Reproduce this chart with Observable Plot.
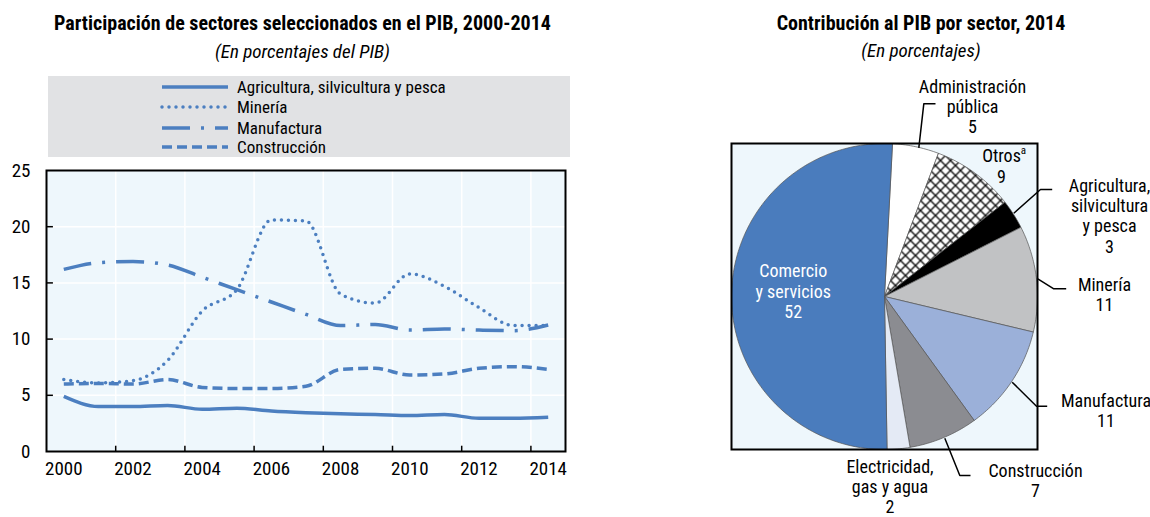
<!DOCTYPE html>
<html><head><meta charset="utf-8">
<script src="https://cdn.jsdelivr.net/npm/d3@7"></script>
<script src="https://cdn.jsdelivr.net/npm/@observablehq/plot@0.6"></script>
<style>
body{margin:0;background:#fff;}
#root{position:relative;width:1150px;height:517px;overflow:hidden;font-family:"Liberation Sans Narrow","Arial Narrow","Roboto Condensed","DejaVu Sans Condensed",sans-serif;color:#000}
.abs{position:absolute}
.title{font-weight:bold;font-size:20px;line-height:24px;text-align:center;white-space:nowrap}
.sub{font-style:italic;font-size:19px;line-height:24px;text-align:center;white-space:nowrap}
</style></head><body>
<div id="root">
  <div class="abs title" style="left:0;top:11px;width:605px">Participación de sectores seleccionados en el PIB, 2000-2014</div>
  <div class="abs sub" style="left:0;top:40px;width:605px">(En porcentajes del PIB)</div>
  <div class="abs title" style="left:721px;top:11px;width:400px">Contribución al PIB por sector, 2014</div>
  <div class="abs sub" style="left:721px;top:39px;width:400px">(En porcentajes)</div>
  <div id="legend" class="abs" style="left:48px;top:76px;width:522px;height:81px;background:#e1e2e4"></div>
  <div id="left" class="abs" style="left:0;top:160px"></div>
  <div id="right" class="abs" style="left:700px;top:70px"></div>
</div>
<script>
const FONT = '"Liberation Sans Narrow","Arial Narrow","Roboto Condensed","DejaVu Sans Condensed",sans-serif';

// ---------- Data: line chart ----------
const years = [2000,2001,2002,2003,2004,2005,2006,2007,2008,2009,2010,2011,2012,2013,2014];
const agricultura  = [4.9,4.0,4.0,4.1,3.75,3.85,3.6,3.45,3.35,3.3,3.2,3.3,2.95,2.95,3.05];
const mineria      = [6.4,6.1,6.3,8.1,12.5,14.4,20.6,20.5,14.0,13.2,15.8,14.7,12.8,11.2,11.2];
const manufactura  = [16.2,16.8,16.9,16.6,15.5,14.4,13.3,12.2,11.2,11.3,10.8,10.9,10.8,10.75,11.25];
const construccion = [6.0,6.05,6.0,6.4,5.7,5.6,5.6,5.8,7.3,7.4,6.8,6.9,7.4,7.55,7.3];
const serieNames = ["Agricultura, silvicultura y pesca","Minería","Manufactura","Construcción"];
const xTickYears = [2000,2002,2004,2006,2008,2010,2012,2014];
const yTicks = [0,5,10,15,20,25];

// ---------- Data: pie ----------
const sectores = ["Administración\npública","Otros","Agricultura,\nsilvicultura\ny pesca","Minería","Manufactura","Construcción","Electricidad,\ngas y agua","Comercio\ny servicios"];
const shares = [4.9, 8.7, 3.1, 11.2, 11.3, 7.3, 2.4, 51.1];   // slice sizes
const etiquetas = [5, 9, 3, 11, 11, 7, 2, 52];                  // printed values

// ---------- Styles ----------
const BLUE = "#4c7fc0";
const lineStyles = [
  {dash: null, cap: "butt"},
  {dash: "0,7", cap: "round"},
  {dash: "28,11,3,11", cap: "butt"},
  {dash: "10,5", cap: "butt"}
];
const sliceFill = ["#ffffff","url(#xhatch)","#000000","#c1c2c4","#9bb0d9","#8b8c91","#e4eaf5","#4a7cbd"];

const serieValues = [agricultura, mineria, manufactura, construccion];
const rows = serieNames.flatMap((s, i) => years.map((y, j) => ({serie: s, year: y, value: serieValues[i][j]})));

// ---------- Legend ----------
{
  const svg = d3.select("#legend").append("svg").attr("width", 522).attr("height", 81);
  const ys = [11, 31, 52, 71];
  serieNames.forEach((s, i) => {
    const l = svg.append("line").attr("x1", 114).attr("x2", 180).attr("y1", ys[i]).attr("y2", ys[i])
      .attr("stroke", BLUE).attr("stroke-width", 3.5).attr("stroke-linecap", lineStyles[i].cap);
    if (lineStyles[i].dash) l.attr("stroke-dasharray", lineStyles[i].dash);
    svg.append("text").attr("x", 189).attr("y", ys[i]).attr("dy", "0.35em")
      .attr("font-family", FONT).attr("font-size", 17).text(s);
  });
}

// ---------- Line chart ----------
const lineMarks = serieNames.map((s, i) => Plot.line(rows.filter(d => d.serie === s), {
  x: d => d.year + 0.5, y: "value", stroke: BLUE, strokeWidth: 3.5,
  strokeDasharray: lineStyles[i].dash ?? undefined, strokeLinecap: lineStyles[i].cap,
  curve: "monotone-x"
}));

const left = Plot.plot({
  width: 580, height: 357,
  marginTop: 10, marginBottom: 66, marginLeft: 46, marginRight: 15,
  style: {fontFamily: FONT, fontSize: "19px", color: "#000", background: "transparent", overflow: "visible"},
  x: {domain: [2000, 2015]},
  y: {domain: [0, 25]},
  marks: [
    Plot.frame({fill: "#eef7fc"}),
    Plot.gridY([5,10,15,20], {stroke: "white", strokeOpacity: 1, strokeWidth: 1.5}),
    Plot.gridX(xTickYears.slice(1), {stroke: "white", strokeOpacity: 1, strokeWidth: 1.5}),
    ...lineMarks,
    Plot.ruleY([5,10,15,20], {x1: 2000, x2: 2000.2, stroke: "black", strokeWidth: 1.5}),
    Plot.ruleX(xTickYears.slice(1), {y1: 0, y2: 0.47, stroke: "black", strokeWidth: 1.5}),
    Plot.axisY({ticks: yTicks, tickSize: 0, tickPadding: 16, label: null, fontSize: 19}),
    Plot.axisX({ticks: xTickYears, tickSize: 0, tickPadding: 10, dx: 17.3, tickFormat: d => String(d), label: null, fontSize: 19}),
    Plot.frame({stroke: "black", strokeWidth: 2})
  ]
});
document.getElementById("left").appendChild(left);

// ---------- Pie chart ----------
const CX = 884, CY = 296, R = 153;           // layout: pie center/radius in page pixels
const toU = X => (X - CX) / R, toV = Y => (CY - Y) / R;
const startAngle = 3;                         // degrees clockwise from 12 o'clock
const slices = [];
{
  let a = startAngle;
  shares.forEach((s, i) => {
    const a0 = a, a1 = a + s / 100 * 360; a = a1;
    const n = Math.max(2, Math.ceil(a1 - a0));
    const pts = [{x: 0, y: 0}];
    for (let k = 0; k <= n; k++) {
      const t = (a0 + (a1 - a0) * k / n) * Math.PI / 180;
      pts.push({x: Math.sin(t), y: Math.cos(t)});
    }
    pts.push({x: 0, y: 0});
    slices.push({i, pts});
  });
}
const labelLayout = [   // page-pixel centers of label blocks
  {X: 972, Y: 106}, {X: 1001, Y: 165.5}, {X: 1109, Y: 215}, {X: 1104, Y: 293.7},
  {X: 1105.5, Y: 410.3}, {X: 1035, Y: 480}, {X: 889.5, Y: 486}, {X: 792.7, Y: 290.5}
];
const leaderLayout = [
  [[918.3,147.3],[923.3,103.3],[935,103.3]],
  [[1013.3,212.7],[1040,189],[1051.7,189]],
  [[1037.3,278.3],[1053.3,288.3],[1065.7,288.3]],
  [[1011.7,381.7],[1036,405.7],[1046.7,405.7]],
  [[944.3,437.7],[959.3,475],[970,475]]
];
const leaderPts = leaderLayout.flatMap((l, k) => l.map(p => ({k, x: toU(p[0]), y: toV(p[1])})));
const labelData = sectores.map((s, i) => ({
  text: s + "\n" + etiquetas[i],
  x: toU(labelLayout[i].X), y: toV(labelLayout[i].Y),
  fill: i === 7 ? "white" : "black"
}));

const right = Plot.plot({
  width: 450, height: 447,
  marginLeft: 31, marginRight: 113, marginTop: 73, marginBottom: 68,
  style: {fontFamily: FONT, background: "transparent", overflow: "visible"},
  x: {domain: [-1, 1], axis: null},
  y: {domain: [-1, 1], axis: null},
  marks: [
    Plot.frame({fill: "#eef7fc"}),
    ...slices.map(s => Plot.line(s.pts, {
      x: "x", y: "y", fill: sliceFill[s.i],
      stroke: "#555", strokeWidth: 0.7, strokeLinejoin: "round"
    })),
    Plot.frame({stroke: "black", strokeWidth: 2}),
    Plot.line(leaderPts, {x: "x", y: "y", z: "k", stroke: "black", strokeWidth: 1.5, strokeLinecap: "butt"}),
    Plot.text(labelData, {x: "x", y: "y", text: "text", fill: "fill", fontSize: 18, lineHeight: 1.13}),
    Plot.text(["a"], {x: toU(1023), y: toV(150), text: d => d, fontSize: 11})
  ]
});
// hatch pattern for "Otros"
{
  const svg = d3.select(right);
  const defs = svg.insert("defs", ":first-child");
  const S = 10;
  const p = defs.append("pattern").attr("id", "xhatch").attr("patternUnits", "userSpaceOnUse")
    .attr("width", S).attr("height", S);
  p.append("rect").attr("width", S).attr("height", S).attr("fill", "white");
  p.append("path").attr("d", `M0,0L${S},${S}M${S},0L0,${S}M-1,${S-1}L1,${S+1}M${S-1},-1L${S+1},1`)
    .attr("stroke", "#111").attr("stroke-width", 1.4);
}
document.getElementById("right").appendChild(right);
</script>
</body></html>
